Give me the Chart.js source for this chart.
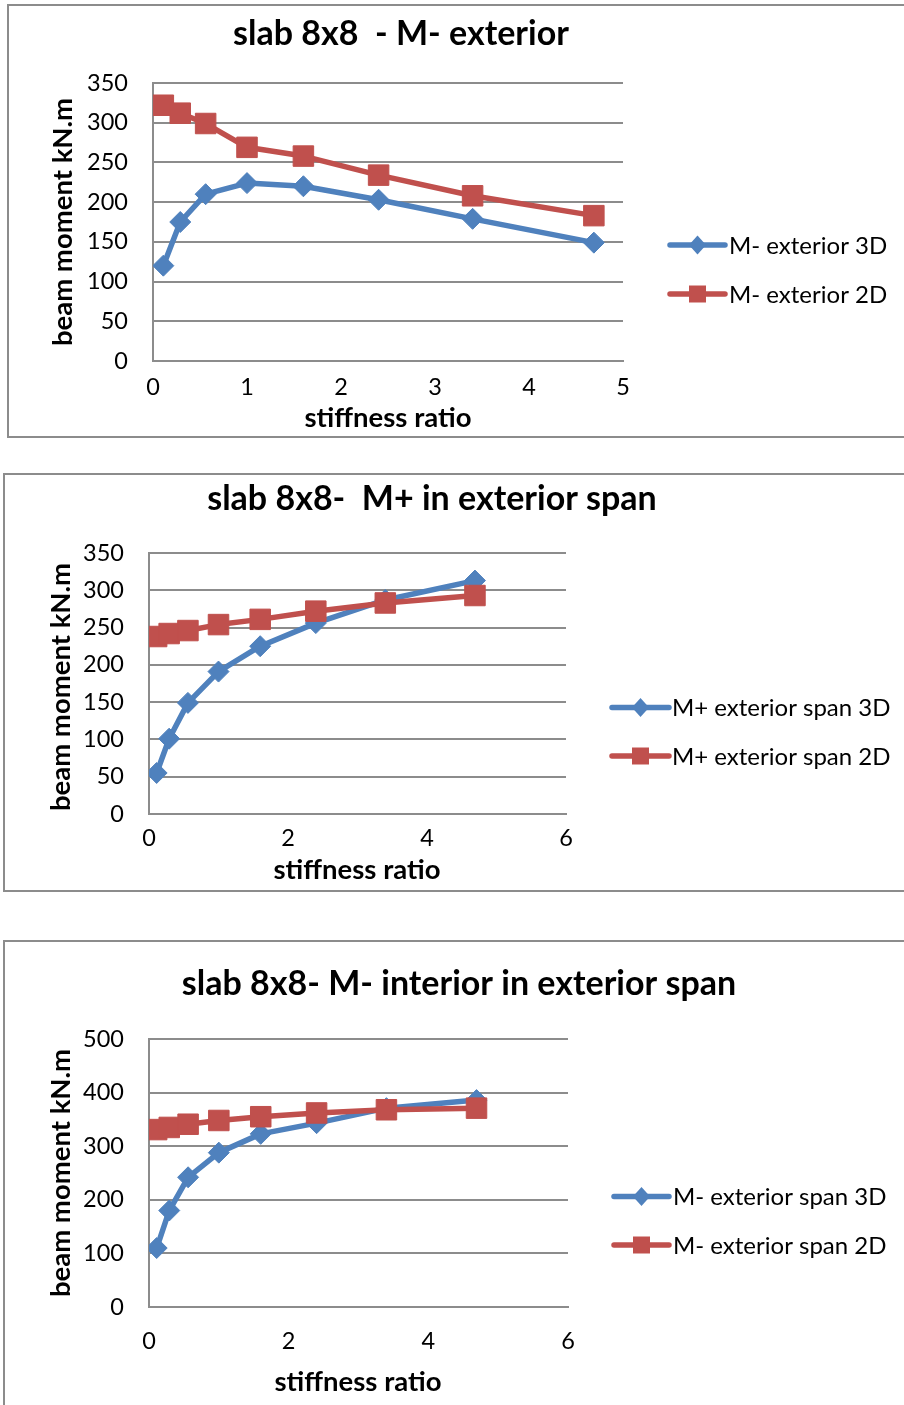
<!DOCTYPE html>
<html>
<head>
<meta charset="utf-8">
<script src="https://cdn.jsdelivr.net/npm/chart.js@4.4.1/dist/chart.umd.min.js"></script>
<style>
  html, body { margin: 0; padding: 0; background: #fff; }
  body { width: 904px; height: 1405px; position: relative; overflow: hidden; }
  .frame { position: absolute; border: 2px solid #8c8c8c; box-sizing: border-box; }
  canvas { position: absolute; left: 0; }
</style>
</head>
<body>
<div class="frame" style="left:7px;top:4px;width:920px;height:434px"></div>
<div class="frame" style="left:3px;top:473px;width:920px;height:419px"></div>
<div class="frame" style="left:3px;top:940px;width:920px;height:520px"></div>
<canvas id="c1" width="904" height="440" style="top:0px"></canvas>
<canvas id="c2" width="904" height="440" style="top:460px"></canvas>
<canvas id="c3" width="904" height="475" style="top:930px"></canvas>
<script>
// Stiffness ratios at which the beam moments were computed
const stiffnessRatio = [0.11, 0.29, 0.56, 1.0, 1.6, 2.4, 3.4, 4.69];

// Negative moment at the exterior support (kN.m)
const mNegExterior3D = [120, 175, 210, 224, 220, 203, 179, 149];
const mNegExterior2D = [322, 312, 299, 269, 258, 234, 208, 183];

// Positive moment in the exterior span (kN.m)
const mPosExtSpan3D = [55, 101, 149, 191, 225, 256, 287, 313];
const mPosExtSpan2D = [238, 242, 246, 254, 261, 272, 283, 293];

// Negative moment at the interior support of the exterior span (kN.m)
const mNegIntSpan3D = [110, 180, 242, 288, 323, 343, 371, 386];
const mNegIntSpan2D = [331, 335, 341, 348, 355, 362, 368, 371];

// Axis tick settings
const yTicks1 = { max: 350, step: 50 };
const yTicks2 = { max: 350, step: 50 };
const yTicks3 = { max: 500, step: 100 };
const xTicks1 = { max: 5, step: 1 };
const xTicks23 = { max: 6, step: 2 };

const BLUE = '#4F81BD';
const RED = '#C0504D';
const GRID = '#8c8c8c';
const FONT = 'Lato, "Open Sans", sans-serif';
const Y_AXIS_W = 140;

function pairs(xs, ys) {
  return xs.map((x, i) => ({ x: x, y: ys[i] }));
}

// Draws the title, axis titles and legend at fixed spots around the plot
const frameText = {
  id: 'frameText',
  afterDraw(chart, args, o) {
    const ctx = chart.ctx;
    ctx.save();
    ctx.fillStyle = '#000';
    ctx.textAlign = 'center';
    ctx.textBaseline = 'alphabetic';
    ctx.font = 'bold 34px ' + FONT;
    ctx.fillText(o.title, o.titleX, o.titleY);
    ctx.font = 'bold 27.5px ' + FONT;
    ctx.fillText(o.xTitle, o.xTitleX, o.xTitleY);
    ctx.save();
    ctx.translate(o.yTitleX, o.yTitleY);
    ctx.rotate(-Math.PI / 2);
    ctx.font = 'bold 27.5px ' + FONT;
    ctx.fillText(o.yTitle, 0, 0);
    ctx.restore();

    chart.data.datasets.forEach((ds, i) => {
      const y = o.legendY + i * o.legendGap;
      const x0 = o.legendX, x1 = o.legendX + o.legendLine;
      const cx = (x0 + x1) / 2;
      ctx.strokeStyle = ds.borderColor;
      ctx.lineWidth = ds.borderWidth;
      ctx.lineCap = 'round';
      ctx.beginPath();
      ctx.moveTo(x0, y);
      ctx.lineTo(x1, y);
      ctx.stroke();
      ctx.fillStyle = ds.pointBackgroundColor;
      ctx.beginPath();
      if (ds.pointStyle === 'rectRot') {
        const r = 9.5;
        ctx.moveTo(cx, y - r);
        ctx.lineTo(cx + r * 0.9, y);
        ctx.lineTo(cx, y + r);
        ctx.lineTo(cx - r * 0.9, y);
        ctx.closePath();
      } else {
        const h = 8.5;
        ctx.rect(cx - h, y - h, 2 * h, 2 * h);
      }
      ctx.fill();
      ctx.fillStyle = '#000';
      ctx.textAlign = 'left';
      ctx.textBaseline = 'middle';
      ctx.font = '24px ' + FONT;
      ctx.fillText(ds.label, x1 + o.legendTextGap, y + 1);
    });
    ctx.restore();
  }
};

function makeChart(id, labels, series3D, series2D, xT, yT, pad, xAxisH, xTickPad, text) {
  return new Chart(document.getElementById(id), {
    type: 'line',
    data: {
      datasets: [
        {
          label: labels[0],
          data: pairs(stiffnessRatio, series3D),
          borderColor: BLUE,
          backgroundColor: BLUE,
          pointBackgroundColor: BLUE,
          pointBorderColor: BLUE,
          borderWidth: 5.5,
          pointStyle: 'rectRot',
          pointRadius: 10.5,
          pointBorderWidth: 1,
          borderCapStyle: 'round',
          borderJoinStyle: 'round',
          order: 2
        },
        {
          label: labels[1],
          data: pairs(stiffnessRatio, series2D),
          borderColor: RED,
          backgroundColor: RED,
          pointBackgroundColor: RED,
          pointBorderColor: RED,
          borderWidth: 5.5,
          pointStyle: 'rect',
          pointRadius: 14.5,
          pointBorderWidth: 1,
          borderCapStyle: 'round',
          borderJoinStyle: 'round',
          order: 1
        }
      ]
    },
    options: {
      responsive: false,
      animation: false,
      devicePixelRatio: 1,
      layout: { padding: pad },
      plugins: {
        legend: { display: false },
        title: { display: false },
        tooltip: { enabled: false },
        frameText: text
      },
      scales: {
        x: {
          type: 'linear',
          min: 0,
          max: xT.max,
          ticks: { stepSize: xT.step, padding: xTickPad, color: '#000', font: { family: FONT, size: 23.5 } },
          grid: { display: false, drawTicks: false },
          border: { display: true, color: GRID, width: 2 },
          afterFit(s) { s.height = xAxisH; }
        },
        y: {
          min: 0,
          max: yT.max,
          ticks: { stepSize: yT.step, padding: 25, color: '#000', font: { family: FONT, size: 23.5 } },
          grid: { color: GRID, lineWidth: 2, drawTicks: false },
          border: { display: true, color: GRID, width: 2 },
          afterFit(s) { s.width = Y_AXIS_W; }
        }
      }
    },
    plugins: [frameText]
  });
}

function build() {
  makeChart('c1', ['M- exterior 3D', 'M- exterior 2D'], mNegExterior3D, mNegExterior2D,
    xTicks1, yTicks1, { left: 153 - Y_AXIS_W, right: 281, top: 83, bottom: 19 }, 60, 12, {
      title: 'slab 8x8  - M- exterior', titleX: 401, titleY: 45,
      xTitle: 'stiffness ratio', xTitleX: 388, xTitleY: 427,
      yTitle: 'beam moment kN.m', yTitleX: 72, yTitleY: 222,
      legendX: 670, legendY: 245, legendGap: 49, legendLine: 55, legendTextGap: 4
    });
  makeChart('c2', ['M+ exterior span 3D', 'M+ exterior span 2D'], mPosExtSpan3D, mPosExtSpan2D,
    xTicks23, yTicks2, { left: 149 - Y_AXIS_W, right: 338, top: 93, bottom: 26 }, 60, 10, {
      title: 'slab 8x8-  M+ in exterior span', titleX: 432, titleY: 50,
      xTitle: 'stiffness ratio', xTitleX: 357, xTitleY: 419,
      yTitle: 'beam moment kN.m', yTitleX: 70, yTitleY: 227,
      legendX: 612, legendY: 247.5, legendGap: 48.5, legendLine: 57, legendTextGap: 3
    });
  makeChart('c3', ['M- exterior span 3D', 'M- exterior span 2D'], mNegIntSpan3D, mNegIntSpan2D,
    xTicks23, yTicks3, { left: 149 - Y_AXIS_W, right: 336, top: 109, bottom: 28 }, 70, 20, {
      title: 'slab 8x8- M- interior in exterior span', titleX: 459, titleY: 65,
      xTitle: 'stiffness ratio', xTitleX: 358, xTitleY: 461,
      yTitle: 'beam moment kN.m', yTitleX: 70, yTitleY: 243,
      legendX: 614, legendY: 266.5, legendGap: 48.5, legendLine: 55, legendTextGap: 4
    });
}

if (document.fonts && document.fonts.load) {
  Promise.all([
    document.fonts.load('22px Lato'),
    document.fonts.load('bold 30px Lato')
  ]).then(build, build);
} else {
  build();
}
</script>
</body>
</html>
